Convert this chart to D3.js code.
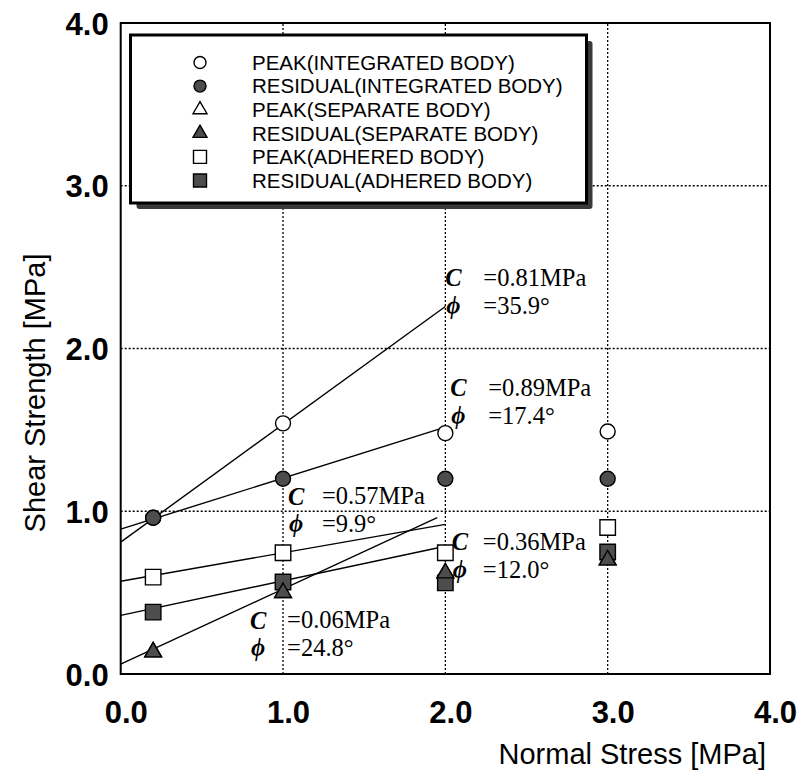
<!DOCTYPE html>
<html>
<head>
<meta charset="utf-8">
<script src="https://cdn.jsdelivr.net/npm/d3@7/dist/d3.min.js"></script>
<style>
  html, body { margin: 0; padding: 0; background: #fff; }
  svg { display: block; }
</style>
</head>
<body>
<svg id="chart" width="804" height="773"></svg>
<script>
// Normal stress levels of the direct shear tests [MPa]
const normalStress = [0.2, 1.0, 2.0, 3.0];

// Shear strength [MPa] at each normal stress
const peakIntegrated     = [0.96, 1.54, 1.48, 1.49];
const residualIntegrated = [0.96, 1.20, 1.20, 1.20];
const peakSeparate       = [0.135, 0.50, 0.62, 0.70];
const residualSeparate   = [0.135, 0.50, 0.62, 0.70];
const peakAdhered        = [0.595, 0.745, 0.745, 0.90];
const residualAdhered    = [0.38, 0.565, 0.56, 0.75];

// Mohr-Coulomb envelopes: cohesion C [MPa], friction angle phi [deg], drawn up to sigma end [MPa]
const envCohesion = [0.81, 0.89, 0.57, 0.36, 0.06];
const envPhi      = [35.9, 17.4, 9.9, 12.0, 24.8];
const envEnd      = [2.0, 2.0, 2.0, 2.0, 1.95];

// Axis ticks
const xTicks = [0, 1, 2, 3, 4];
const yTicks = [0, 1, 2, 3, 4];

const legendLabels = [
  "PEAK(INTEGRATED BODY)",
  "RESIDUAL(INTEGRATED BODY)",
  "PEAK(SEPARATE BODY)",
  "RESIDUAL(SEPARATE BODY)",
  "PEAK(ADHERED BODY)",
  "RESIDUAL(ADHERED BODY)"
];

// ---- layout ----
const margin = { left: 120.7, right: 770, top: 23, bottom: 674 };
const svg = d3.select("#chart");

const x = d3.scaleLinear().domain([0, 4]).range([margin.left, margin.right]);
const y = d3.scaleLinear().domain([0, 4]).range([margin.bottom, margin.top]);

const DARK = "#4d4d4d";
const sans = "'Liberation Sans', Arial, Helvetica, sans-serif";
const serif = "'Liberation Serif', 'Times New Roman', 'DejaVu Serif', serif";

// ---- grid (dotted) ----
const grid = svg.append("g");
grid.selectAll("line.gx").data(xTicks.slice(1, -1)).join("line")
  .attr("x1", d => x(d)).attr("x2", d => x(d))
  .attr("y1", y(0)).attr("y2", y(4))
  .attr("stroke", "#000").attr("stroke-width", 1.3).attr("stroke-dasharray", "2,2");
grid.selectAll("line.gy").data(yTicks.slice(1, -1)).join("line")
  .attr("y1", d => y(d)).attr("y2", d => y(d))
  .attr("x1", x(0)).attr("x2", x(4))
  .attr("stroke", "#000").attr("stroke-width", 1.3).attr("stroke-dasharray", "2,2");

// ---- axes ----
const xAxis = d3.axisBottom(x).tickValues(xTicks).tickSize(0).tickFormat(d3.format(".1f"));
const yAxis = d3.axisLeft(y).tickValues(yTicks).tickSize(0).tickFormat(d3.format(".1f"));

const gx = svg.append("g").attr("transform", `translate(0,${y(0)})`).call(xAxis);
gx.select(".domain").remove();
gx.selectAll("text")
  .attr("font-family", sans).attr("font-size", 31).attr("font-weight", "bold")
  .attr("fill", "#000").attr("dy", 0).attr("y", 49).attr("dx", 5);

const gy = svg.append("g").attr("transform", `translate(${x(0)},0)`).call(yAxis);
gy.select(".domain").remove();
gy.selectAll("text")
  .attr("font-family", sans).attr("font-size", 31).attr("font-weight", "bold")
  .attr("fill", "#000").attr("x", -12).attr("dy", "0.36em");

// frame
svg.append("rect")
  .attr("x", x(0)).attr("y", y(4))
  .attr("width", x(4) - x(0)).attr("height", y(0) - y(4))
  .attr("fill", "none").attr("stroke", "#000").attr("stroke-width", 2);

// axis titles
svg.append("text")
  .attr("x", x(4) - 4).attr("y", 764)
  .attr("text-anchor", "end")
  .attr("font-family", sans).attr("font-size", 29)
  .text("Normal Stress [MPa]");

svg.append("text")
  .attr("transform", `translate(45,${393}) rotate(-90)`)
  .attr("text-anchor", "middle")
  .attr("font-family", sans).attr("font-size", 29)
  .text("Shear Strength [MPa]");

// ---- envelopes ----
const envelopes = envCohesion.map((c, i) => {
  const t = Math.tan(envPhi[i] * Math.PI / 180);
  return [[0, c], [envEnd[i], c + t * envEnd[i]]];
});
const line = d3.line().x(d => x(d[0])).y(d => y(d[1]));
svg.append("g").selectAll("path").data(envelopes).join("path")
  .attr("d", line)
  .attr("fill", "none").attr("stroke", "#000").attr("stroke-width", 1.4);

// ---- markers ----
const symCircle = d3.symbol().type(d3.symbolCircle).size(Math.PI * 7.5 * 7.5);
const symSquare = d3.symbol().type(d3.symbolSquare).size(15.5 * 15.5);
const symTri    = d3.symbol().type(d3.symbolTriangle).size(120);

const series = [
  { values: peakSeparate,       sym: symTri,    fill: "#fff" },
  { values: peakIntegrated,     sym: symCircle, fill: "#fff" },
  { values: peakAdhered,        sym: symSquare, fill: "#fff" },
  { values: residualIntegrated, sym: symCircle, fill: DARK },
  { values: residualAdhered,    sym: symSquare, fill: DARK },
  { values: residualSeparate,   sym: symTri,    fill: DARK }
];

series.forEach(s => {
  svg.append("g").selectAll("path")
    .data(s.values.map((v, i) => [normalStress[i], v]))
    .join("path")
    .attr("d", s.sym)
    .attr("transform", d => `translate(${x(d[0])},${y(d[1])})`)
    .attr("fill", s.fill)
    .attr("stroke", "#000").attr("stroke-width", 1.4);
});

// ---- envelope parameter labels (one text block per envelope) ----
// anchor of each label block (data units: normal stress, shear strength)
const labelAnchors = [[2.0, 2.372], [2.03, 1.696], [1.03, 1.032], [2.04, 0.75], [0.797, 0.27]];
const labelGap = [38, 38, 34, 31, 37];

const labels = svg.append("g").attr("font-family", serif);
envCohesion.forEach((c, i) => {
  const ax = x(labelAnchors[i][0]), ay = y(labelAnchors[i][1]);
  const t = labels.append("text");
  t.append("tspan")
    .attr("x", ax).attr("y", ay - 1.5)
    .attr("font-style", "italic").attr("font-weight", "bold").attr("font-size", 24.5)
    .text("C");
  t.append("tspan")
    .attr("x", ax + labelGap[i]).attr("y", ay - 2)
    .attr("font-size", 24.5)
    .text("=" + c.toFixed(2) + "MPa");
  t.append("tspan")
    .attr("x", ax + 1).attr("y", ay + 26)
    .attr("font-style", "italic").attr("font-weight", "bold").attr("font-size", 24.5)
    .text("\u03D5");
  t.append("tspan")
    .attr("x", ax + labelGap[i]).attr("y", ay + 26)
    .attr("font-size", 24.5)
    .text("=" + envPhi[i].toFixed(1) + "\u00B0");
});

// ---- legend ----
const lg = { x: 130.5, y: 35, w: 456, h: 168, shadow: 6 };
const legend = svg.append("g");
legend.append("rect")
  .attr("x", lg.x + lg.shadow).attr("y", lg.y + lg.shadow)
  .attr("width", lg.w).attr("height", lg.h)
  .attr("rx", 3)
  .attr("fill", "#3a3a3a");
legend.append("rect")
  .attr("x", lg.x).attr("y", lg.y)
  .attr("width", lg.w).attr("height", lg.h)
  .attr("fill", "#fff").attr("stroke", "#000").attr("stroke-width", 3);

const legendSyms = [
  { sym: d3.symbol().type(d3.symbolCircle).size(Math.PI * 36), fill: "#fff" },
  { sym: d3.symbol().type(d3.symbolCircle).size(Math.PI * 36), fill: DARK },
  { sym: d3.symbol().type(d3.symbolTriangle).size(85), fill: "#fff" },
  { sym: d3.symbol().type(d3.symbolTriangle).size(85), fill: DARK },
  { sym: d3.symbol().type(d3.symbolSquare).size(13 * 13), fill: "#fff" },
  { sym: d3.symbol().type(d3.symbolSquare).size(13 * 13), fill: DARK }
];
const rowY = d3.scalePoint().domain(d3.range(legendLabels.length)).range([62.5, 180.5]);

legendLabels.forEach((t, i) => {
  legend.append("path")
    .attr("d", legendSyms[i].sym)
    .attr("transform", `translate(200,${rowY(i)})`)
    .attr("fill", legendSyms[i].fill)
    .attr("stroke", "#000").attr("stroke-width", 1.4);
  legend.append("text")
    .attr("x", 252).attr("y", rowY(i))
    .attr("dy", "0.36em")
    .attr("font-family", sans).attr("font-size", 20.5)
    .text(t);
});
</script>
</body>
</html>
